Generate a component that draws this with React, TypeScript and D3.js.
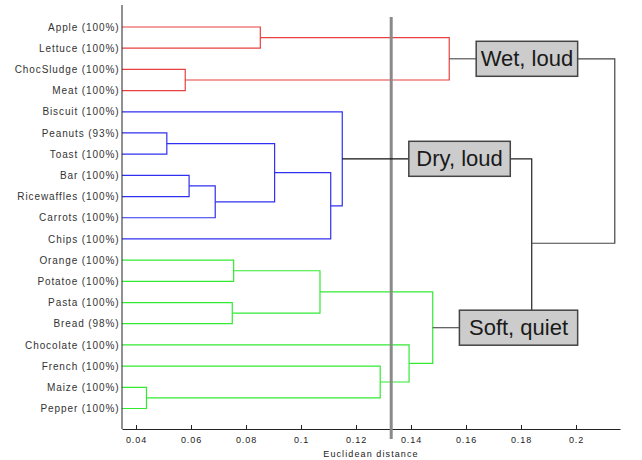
import * as React from "react";
import * as d3 from "d3";

// leaves, top to bottom
const leaves = [
  "Apple", "Lettuce", "ChocSludge", "Meat", "Biscuit", "Peanuts", "Toast",
  "Bar", "Ricewaffles", "Carrots", "Chips", "Orange", "Potatoe", "Pasta",
  "Bread", "Chocolate", "French", "Maize", "Pepper",
];
const support = [100, 100, 100, 100, 100, 93, 100, 100, 100, 100, 100, 100, 100, 100, 98, 100, 100, 100, 100];

// linkage rows: [left, right, distance]; ids >= leaves.length point to earlier rows
const linkage: [number, number, number][] = [
  [0, 1, 0.0852],
  [2, 3, 0.0579],
  [19, 20, 0.1539],
  [5, 6, 0.0512],
  [7, 8, 0.0593],
  [23, 9, 0.0688],
  [22, 24, 0.0904],
  [25, 10, 0.1108],
  [4, 26, 0.115],
  [11, 12, 0.0755],
  [13, 14, 0.075],
  [28, 29, 0.1069],
  [17, 18, 0.0438],
  [16, 31, 0.1288],
  [15, 32, 0.1393],
  [30, 33, 0.1479],
];

const groupNames = ["Wet, loud", "Dry, loud", "Soft, quiet"];
const groupRoots = [21, 27, 34];
const groupColors = ["#e8403f", "#3030f0", "#33ea33"];
// label boxes, in distance units (left, right)
const boxSpans = [
  [0.1637, 0.2006],
  [0.1392, 0.1761],
  [0.1576, 0.2006],
];
// dry+soft join, then everything
const joinDistances = [0.1839, 0.2141];
const cutDistance = 0.1328;
const xTicks = [0.04, 0.06, 0.08, 0.1, 0.12, 0.14, 0.16, 0.18, 0.2];

const font = "'Liberation Sans', Arial, Helvetica, sans-serif";

function dendrogram(svgRef) {
  const svg = d3.select(svgRef.current);
  svg.selectAll("*").remove();

  const width = 642;
  const height = 460;
  const axisY = 429;
  const boxH = 35;

  svg.attr("width", width).attr("height", height);
  svg.append("rect").attr("width", width).attr("height", height).attr("fill", "#fff");

  const x = d3.scaleLinear().domain([0.0349, 0.216]).range([122, 620]);
  const y = d3.scalePoint().domain(leaves).range([27, 408.5]);

  const n = leaves.length;
  const nodeX: number[] = leaves.map(() => x.range()[0]);
  const nodeY: number[] = leaves.map((l) => y(l));
  linkage.forEach(([a, b, h], i) => {
    nodeX[n + i] = x(h);
    nodeY[n + i] = (nodeY[a] + nodeY[b]) / 2;
  });

  const color: string[] = [];
  const paint = (id, c) => {
    color[id] = c;
    if (id >= n) {
      const [a, b] = linkage[id - n];
      paint(a, c);
      paint(b, c);
    }
  };
  groupRoots.forEach((r, i) => paint(r, groupColors[i]));

  // leaf labels
  svg
    .append("g")
    .attr("font-family", font)
    .attr("font-size", 10)
    .attr("letter-spacing", 0.9)
    .attr("fill", "#333")
    .attr("text-anchor", "end")
    .selectAll("text")
    .data(leaves)
    .enter()
    .append("text")
    .attr("x", 119.5)
    .attr("y", (d) => y(d))
    .attr("dy", "0.37em")
    .text((d, i) => `${d} (${support[i]}%)`);

  // dendrogram links
  const links = svg.append("g").attr("fill", "none").attr("stroke-width", 1.2);
  linkage.forEach(([a, b], i) => {
    const id = n + i;
    links
      .append("path")
      .attr("d", `M${nodeX[a]},${nodeY[a]}H${nodeX[id]}V${nodeY[b]}H${nodeX[b]}`)
      .attr("stroke", color[id]);
  });

  // axes
  const xAxis = d3
    .axisBottom(x)
    .tickValues(xTicks)
    .tickSizeInner(-4)
    .tickSizeOuter(0)
    .tickPadding(8)
    .tickFormat(d3.format("~g"));

  const ax = svg
    .append("g")
    .attr("transform", `translate(0, ${axisY})`)
    .call(xAxis);
  ax.select(".domain").attr("stroke", "#222");
  ax.selectAll(".tick line").attr("stroke", "#222");
  ax.selectAll(".tick text")
    .attr("font-family", font)
    .attr("font-size", 9)
    .attr("letter-spacing", 0.9)
    .attr("fill", "#222");

  svg
    .append("line")
    .attr("x1", x.range()[0])
    .attr("x2", x.range()[0])
    .attr("y1", 5)
    .attr("y2", axisY)
    .attr("stroke", "#222");

  svg
    .append("text")
    .attr("x", (x.range()[0] + x.range()[1]) / 2)
    .attr("y", 456.5)
    .attr("text-anchor", "middle")
    .attr("font-family", font)
    .attr("font-size", 9)
    .attr("letter-spacing", 1.1)
    .attr("fill", "#222")
    .text("Euclidean distance");

  // cut line
  svg
    .append("line")
    .attr("x1", x(cutDistance))
    .attr("x2", x(cutDistance))
    .attr("y1", 17)
    .attr("y2", 439)
    .attr("stroke", "#8a8a8a")
    .attr("stroke-width", 3);

  // group connectors
  const gy = groupRoots.map((r) => nodeY[r]);
  const jy = (gy[1] + gy[2]) / 2;
  const conn = svg.append("g").attr("fill", "none").attr("stroke-width", 1.2);
  groupRoots.forEach((r, i) => {
    conn
      .append("path")
      .attr("d", `M${nodeX[r]},${gy[i]}H${x(boxSpans[i][0])}`)
      .attr("stroke", i === 1 ? "#111" : "#555");
  });
  conn
    .append("path")
    .attr("d", `M${x(boxSpans[1][1])},${gy[1]}H${x(joinDistances[0])}V${gy[2] - boxH / 2}`)
    .attr("stroke", "#222");
  conn
    .append("path")
    .attr("d", `M${x(boxSpans[0][1])},${gy[0]}H${x(joinDistances[1])}V${jy}H${x(joinDistances[0])}`)
    .attr("stroke", "#444");

  // label boxes
  const boxes = svg
    .append("g")
    .selectAll("g")
    .data(groupNames)
    .enter()
    .append("g");
  boxes
    .append("rect")
    .attr("x", (d, i) => x(boxSpans[i][0]))
    .attr("y", (d, i) => gy[i] - boxH / 2)
    .attr("width", (d, i) => x(boxSpans[i][1]) - x(boxSpans[i][0]))
    .attr("height", boxH)
    .attr("fill", "#cccccc")
    .attr("stroke", "#444")
    .attr("stroke-width", 1.5);
  boxes
    .append("text")
    .attr("x", (d, i) => (x(boxSpans[i][0]) + x(boxSpans[i][1])) / 2)
    .attr("y", (d, i) => gy[i])
    .attr("dy", "0.33em")
    .attr("text-anchor", "middle")
    .attr("font-family", font)
    .attr("font-size", 22)
    .attr("fill", "#1a1a1a")
    .text((d) => d);
}

const App = () => {
  const svg = React.useRef(null);
  React.useEffect(() => {
    dendrogram(svg);
  }, [svg]);

  return <svg ref={svg} style={{ position: "absolute", left: 0, top: 0 }} />;
};

export default App;
